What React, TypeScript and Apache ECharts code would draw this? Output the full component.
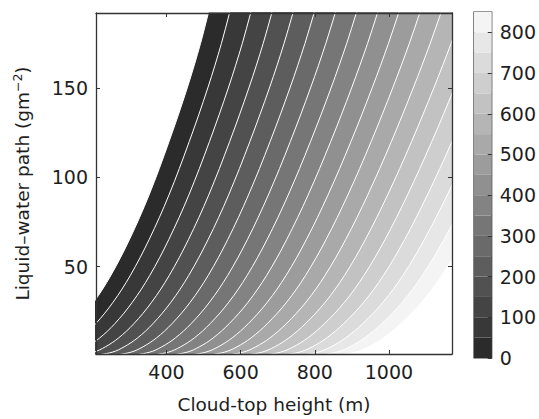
import React, { useEffect, useRef } from "react";
import * as echarts from "echarts";

// Axis ranges
const xMin = 210;
const xMax = 1170;
const yMin = 1;
const yMax = 192;

// Tick labels
const xTicks = [400, 600, 800, 1000];
const yTicks = [50, 100, 150];
const colorbarTicks = [0, 100, 200, 300, 400, 500, 600, 700, 800];

// Contour levels (cloud-base field, 0..850 step 50)
const levels = [0, 50, 100, 150, 200, 250, 300, 350, 400, 450, 500, 550, 600, 650, 700, 750, 800, 850];

// Contour geometry: for each liquid-water path row,
// the cloud-top height of the 0 contour and the height step between successive contours
const lwpRows = [0, 2, 5, 10, 18, 30, 45, 65, 90, 120, 150, 175, 192, 230];
const zeroContourHeight = [0, 52, 83, 118, 158, 204, 250, 300, 353, 407, 456, 492, 513, 562];
const contourStep = [50, 50.4, 50.7, 51, 51.4, 52, 52.5, 53, 53.6, 54.5, 55.4, 56.3, 57, 58.5];

// Band fill colours (17 bands + above-range)
const bandColors = [
  "#2b2b2b", "#383838", "#444444", "#515151", "#5d5d5d", "#6a6a6a", "#767676", "#838383",
  "#909090", "#9c9c9c", "#a9a9a9", "#b5b5b5", "#c2c2c2", "#cecece", "#dbdbdb", "#e7e7e7", "#f4f4f4",
  "#ffffff",
];

const FONT = "DejaVu Sans";

export default function App() {
  const ref = useRef<HTMLDivElement>(null);
  useEffect(() => {
    if (!ref.current) return;
    const chart = echarts.init(ref.current, undefined, { renderer: "svg" });

    const contourSeries = levels.map((c, i) => {
      const pts = lwpRows.map((L, j) => [zeroContourHeight[j] + (c / 50) * contourStep[j], L]);
      pts.push([5000, lwpRows[lwpRows.length - 1]]);
      return {
        type: "line",
        xAxisIndex: 0,
        yAxisIndex: 0,
        data: pts,
        smooth: 0.35,
        symbol: "none",
        showSymbol: false,
        silent: true,
        clip: true,
        lineStyle: { color: "#ffffff", width: 1 },
        areaStyle: { color: bandColors[i], opacity: 1, origin: "start" },
        z: 2,
      };
    });

    const cbSeries = levels.slice(0, levels.length - 1).map((c, i) => ({
      type: "bar",
      xAxisIndex: 2,
      yAxisIndex: 2,
      stack: "cb",
      data: [levels[i + 1] - c],
      barWidth: "100%",
      silent: true,
      itemStyle: { color: bandColors[i] },
    }));

    const axisLine = { show: true, lineStyle: { color: "#333333", width: 1.3 } };
    const tick = { show: true, inside: true, length: 4, lineStyle: { color: "#333333", width: 1 } };
    const label = { color: "#1e1e1e", fontSize: 19, fontFamily: FONT, formatter: (v: number) => String(v) };

    chart.setOption({
      animation: false,
      grid: [
        { left: 96, top: 13, width: 356, height: 344 },
        { left: 474, top: 12, width: 18, height: 346, show: true, borderColor: "#333333", borderWidth: 1.2 },
      ],
      xAxis: [
        {
          type: "value", gridIndex: 0, min: xMin, max: xMax, position: "bottom", z: 10,
          axisLine, axisTick: { ...tick, customValues: xTicks },
          axisLabel: { ...label, margin: 8, customValues: xTicks },
          splitLine: { show: false },
          name: "Cloud-top height (m)", nameLocation: "middle", nameGap: 41,
          nameTextStyle: { fontSize: 18.5, fontFamily: FONT, color: "#1e1e1e" },
        },
        {
          type: "value", gridIndex: 0, min: xMin, max: xMax, position: "top", z: 10,
          axisLine, axisTick: { ...tick, customValues: xTicks },
          axisLabel: { show: false }, splitLine: { show: false },
        },
        {
          type: "category", gridIndex: 1, data: ["cb"], show: false,
        },
      ],
      yAxis: [
        {
          type: "value", gridIndex: 0, min: yMin, max: yMax, position: "left", z: 10,
          axisLine, axisTick: { ...tick, customValues: yTicks },
          axisLabel: { ...label, margin: 8, customValues: yTicks },
          splitLine: { show: false },
          name: "Liquid–water path (gm{sup|−2})", nameLocation: "middle", nameGap: 63,
          nameTextStyle: {
            fontSize: 18.5, fontFamily: FONT, color: "#1e1e1e",
            rich: { sup: { fontSize: 12.5, fontFamily: FONT, color: "#1e1e1e", verticalAlign: "top", lineHeight: 22 } },
          },
        },
        {
          type: "value", gridIndex: 0, min: yMin, max: yMax, position: "right", z: 10,
          axisLine, axisTick: { ...tick, customValues: yTicks },
          axisLabel: { show: false }, splitLine: { show: false },
        },
        {
          type: "value", gridIndex: 1, min: 0, max: 850, position: "right", z: 10,
          axisLine: { show: false },
          axisTick: { ...tick, customValues: colorbarTicks },
          axisLabel: { ...label, margin: 8, customValues: colorbarTicks },
          splitLine: { show: false },
        },
      ],
      series: [...contourSeries, ...cbSeries],
    });
    return () => chart.dispose();
  }, []);
  return <div ref={ref} style={{ position: "absolute", left: 0, top: 0, width: 539, height: 419 }} />;
}
